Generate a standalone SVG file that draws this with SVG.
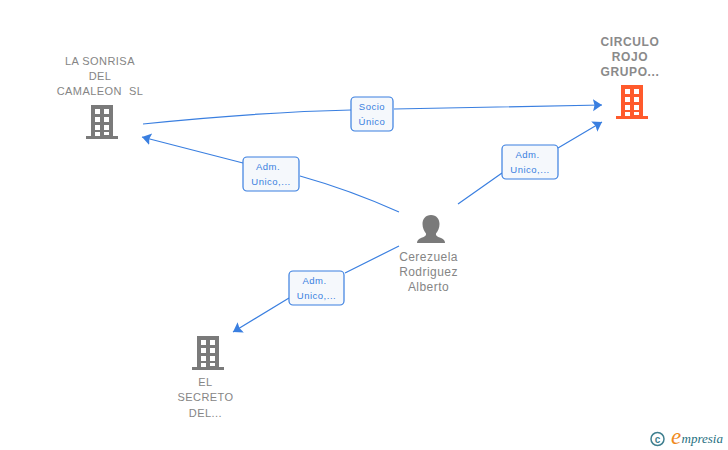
<svg xmlns="http://www.w3.org/2000/svg" width="728" height="450" viewBox="0 0 728 450">
<style>
.n{font-family:"Liberation Sans",Arial,sans-serif;font-size:12px;letter-spacing:.45px;fill:#858585;text-anchor:middle}
.s{font-size:11px}
.b{font-weight:bold;letter-spacing:.6px;fill:#8a8a8a}
.c{fill:none;stroke:#3a7fe0;stroke-width:1.2}
.a{fill:#3a7fe0;stroke:none}
.l{fill:#f5f8fc;stroke:#3a7fe0;stroke-width:1.2}
.t{font-family:"Liberation Sans",Arial,sans-serif;font-size:9.5px;letter-spacing:.5px;fill:#3a7fe0;text-anchor:middle}
</style>
<defs>
<path id="bld" fill-rule="evenodd" d="M5 0H27V31H32V34H0V31H5ZM9 4V9H14V4ZM18 4V9H23V4ZM9 12V17H14V12ZM18 12V17H23V12ZM9 20V25H14V20ZM18 20V25H23V20ZM9 27V31H14V27ZM18 27V30H23V27Z"/>
<marker id="arr" markerWidth="12" markerHeight="14" refX="9" refY="6" orient="auto" markerUnits="userSpaceOnUse"><path class="a" d="M0 0L9 6L0 12L1.500 6Z"/></marker>
</defs>
<g id="connectors">
<path class="c" marker-end="url(#arr)" d="M143 124Q260 112 351 110M394 109L602 105"/>
<path class="c" marker-end="url(#arr)" d="M399 212Q350 190 300 176M243 163L142 137"/>
<path class="c" marker-end="url(#arr)" d="M458 204L502 173M558 148L602 122"/>
<path class="c" marker-end="url(#arr)" d="M399 246L345 273M289 298L233 332"/>
</g>
<g id="label-socio"><rect class="l" x="351" y="97" width="42" height="34" rx="4"/><text class="t" x="372" y="110">Socio</text><text class="t" x="372" y="125">Único</text></g>
<g id="label-adm1"><rect class="l" x="243" y="157" width="56" height="34" rx="4"/><text class="t" x="268" y="170">Adm.</text><text class="t" x="271" y="185">Unico,...</text></g>
<g id="label-adm2"><rect class="l" x="502" y="145" width="56" height="34" rx="4"/><text class="t" x="527.500" y="158">Adm.</text><text class="t" x="530" y="173">Unico,...</text></g>
<g id="label-adm3"><rect class="l" x="289" y="271" width="55" height="34" rx="4"/><text class="t" x="314.500" y="284">Adm.</text><text class="t" x="316.500" y="299">Unico,...</text></g>
<g id="node-sonrisa">
<use href="#bld" x="86" y="105" fill="#7a7a7a"/>
<text class="n s" x="100" y="65">LA SONRISA</text><text class="n s" x="100" y="80">DEL</text><text class="n s" x="100" y="95" xml:space="preserve">CAMALEON  SL</text>
</g>
<g id="node-circulo">
<use href="#bld" x="616" y="85" fill="#ff5a2c"/>
<text class="n b" x="630" y="46">CIRCULO</text><text class="n b" x="630" y="61">ROJO</text><text class="n b" x="630" y="76">GRUPO...</text>
</g>
<g id="node-secreto">
<use href="#bld" x="192" y="336" fill="#7a7a7a"/>
<text class="n s" x="205.500" y="386">EL</text><text class="n s" x="205.500" y="401">SECRETO</text><text class="n s" x="205.500" y="417">DEL...</text>
</g>
<g id="node-cerezuela">
<path fill="#7a7a7a" d="M431 215C425.500 215 422.500 219 422.500 224C422.500 228 424 231 426 233.500C426.500 236 424 237 421 238C418 239 417 241 417 243H445C445 241 444 239 441 238C438 237 435.500 236 436 233.500C438 231 439.500 228 439.500 224C439.500 219 436.500 215 431 215Z"/>
<text class="n" x="428.500" y="261">Cerezuela</text><text class="n" x="428.500" y="276">Rodriguez</text><text class="n" x="428.500" y="291">Alberto</text>
</g>
<g id="logo">
<circle cx="657.500" cy="439" r="6.500" fill="none" stroke="#3f7f8f" stroke-width="1.500"/>
<text x="657.500" y="442.500" font-family="Liberation Sans,sans-serif" font-size="10" font-weight="bold" fill="#3f7f8f" text-anchor="middle">c</text>
<text x="671" y="444" font-family="Liberation Serif,serif" font-style="italic" font-size="23" fill="#f08a1d">e</text>
<text x="681.500" y="443" font-family="Liberation Serif,serif" font-style="italic" font-size="13" fill="#1f6f80">mpresia</text>
</g>
</svg>
